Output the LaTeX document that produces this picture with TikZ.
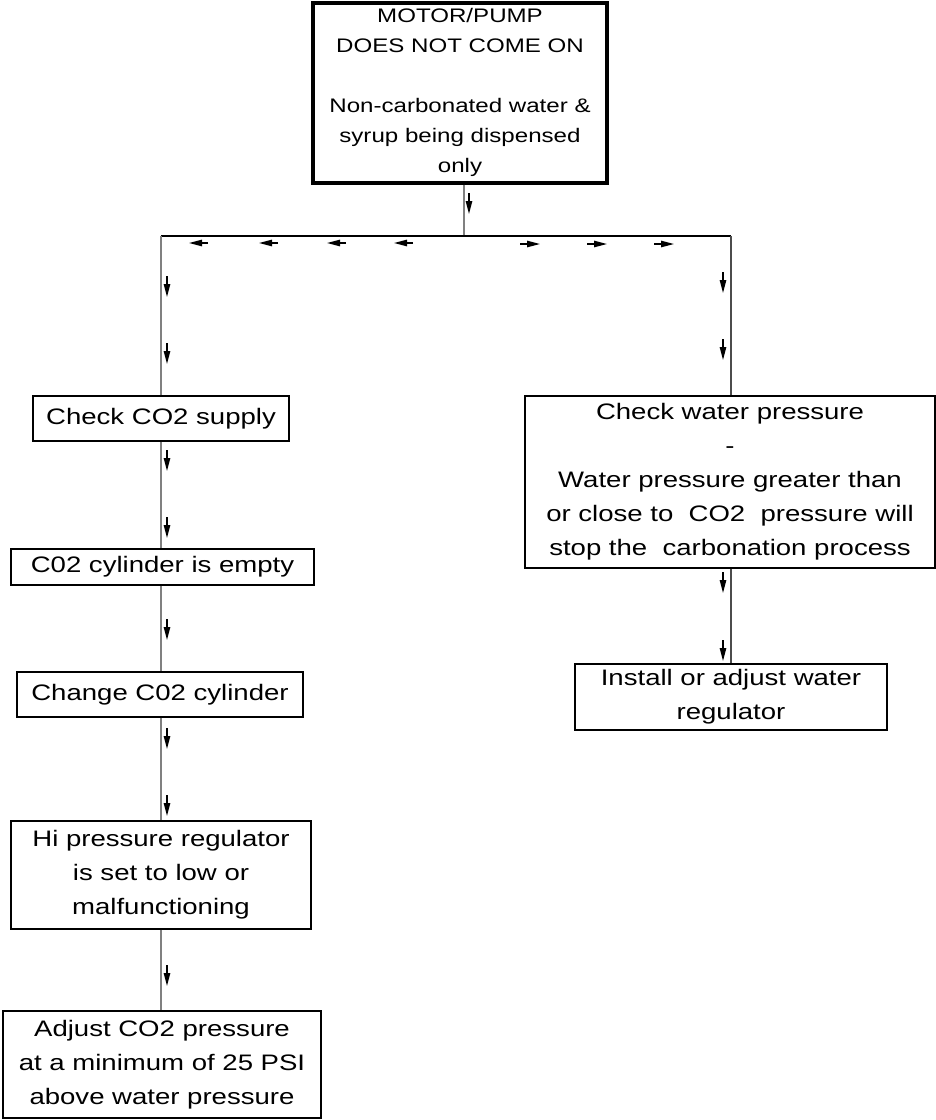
\documentclass[tikz,border=0pt]{standalone}
\usepackage{fontspec}
\setmainfont[FakeStretch=1.23]{Liberation Sans}
\usetikzlibrary{arrows.meta}

\begin{document}
\begin{tikzpicture}[x=0.5pt, y=-0.5pt,
  stepbox/.style={rectangle, draw, line width=0.75pt, inner sep=0pt, align=center, font=\fontsize{11.2}{17}\selectfont},
  wire/.style={draw=gray, line width=0.75pt},
  flowarrow/.style={line width=0.7pt, -{Triangle[length=6.5pt, width=3.2pt]}}]
  \useasboundingbox (0,0) rectangle (936,1120);
  \node (top) [stepbox, line width=2pt, minimum width=147pt, minimum height=90pt, font=\fontsize{9.8}{15}\selectfont] at (460,92.5) {MOTOR/PUMP\\DOES NOT COME ON\\[15pt]Non-carbonated water \&\\syrup being dispensed\\only};
  \node (chk) [stepbox, minimum width=128pt, minimum height=22.5pt] at (161,418.5) {Check CO2 supply};
  \node (empty) [stepbox, minimum width=151.5pt, minimum height=18pt] at (162.5,567) {C02 cylinder is empty};
  \node (change) [stepbox, minimum width=143pt, minimum height=22.5pt] at (160,694.5) {Change C02 cylinder};
  \node (hipress) [stepbox, minimum width=150pt, minimum height=54pt] at (161,875) {Hi pressure regulator\\is set to low or\\malfunctioning};
  \node (adjust) [stepbox, minimum width=159pt, minimum height=53.5pt] at (162,1064.5) {Adjust CO2 pressure\\at a minimum of 25 PSI\\above water pressure};
  \node (water) [stepbox, minimum width=205pt, minimum height=86pt] at (730,482) {Check water pressure\\-\\Water pressure greater than\\or close to\ \ CO2\ \ pressure will\\stop the\ \ carbonation process};
  \node (regul) [stepbox, minimum width=156pt, minimum height=33pt] at (731,697) {Install or adjust water\\regulator};
  \coordinate (split) at (464,236);
  % branch out of the top box
  \draw[wire] (top.south -| split) -- (split);
  \draw[line width=0.6pt] (chk.north |- split) -- (regul.north |- split);
  \draw[wire] (chk.north) -- (chk.north |- split);
  \draw[wire, draw=gray!60!black] (regul.north |- water.north) -- (regul.north |- split);
  % left column
  \draw[wire] (chk.south) -- (empty.north -| chk);
  \draw[wire] (empty.south -| chk) -- (change.north -| chk);
  \draw[wire] (change.south -| chk) -- (hipress.north -| chk);
  \draw[wire] (hipress.south -| chk) -- (adjust.north -| chk);
  % right column
  \draw[wire, draw=gray!60!black] (water.south -| regul) -- (regul.north);
  % arrow marks along the lines
  \draw[flowarrow] (469,193) -- ++(0,21);
  \foreach \x in {208,278,346,413}
    \draw[flowarrow] (\x,243) -- ++(-19,0);
  \foreach \x in {520,587,654}
    \draw[flowarrow] (\x,244) -- ++(20,0);
  \foreach \y in {276,343,450,517,619,728,795,965}
    \draw[flowarrow] (167,\y) -- ++(0,21);
  \foreach \y in {272,339,572,640}
    \draw[flowarrow] (723,\y) -- ++(0,21);
\end{tikzpicture}
\end{document}
